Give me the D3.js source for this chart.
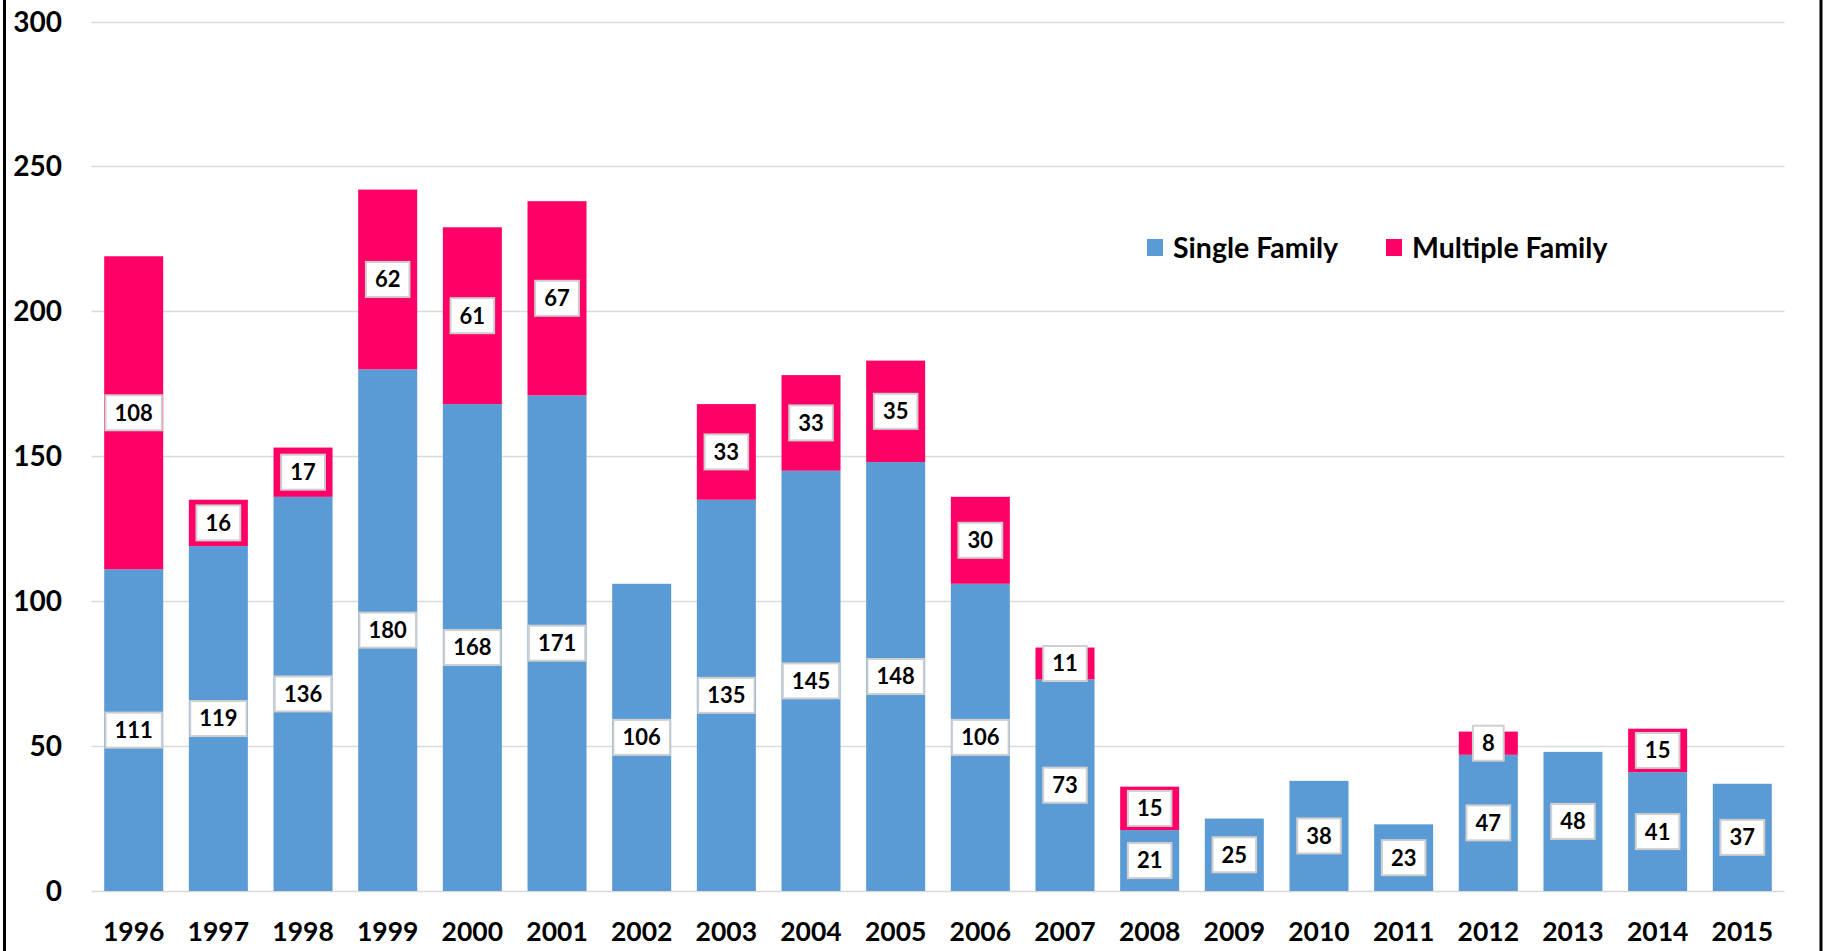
<!DOCTYPE html>
<html>
<head>
<meta charset="utf-8">
<script src="https://cdn.jsdelivr.net/npm/d3@7"></script>
<style>
  html, body { margin: 0; padding: 0; background: #fff; }
  svg { display: block; font-family: Lato, 'Open Sans', sans-serif; }
</style>
</head>
<body>
<div id="chart"></div>
<script>
const years = ['1996', '1997', '1998', '1999', '2000', '2001', '2002', '2003', '2004', '2005',
  '2006', '2007', '2008', '2009', '2010', '2011', '2012', '2013', '2014', '2015']
const singleFamily = [111, 119, 136, 180, 168, 171, 106, 135, 145, 148, 106, 73, 21, 25, 38, 23, 47, 48, 41, 37]
const multipleFamily = [108, 16, 17, 62, 61, 67, 0, 33, 33, 35, 30, 11, 15, 0, 0, 0, 8, 0, 15, 0]
const yTicks = [0, 50, 100, 150, 200, 250, 300]
const seriesNames = ['Single Family', 'Multiple Family']
const colors = ['#5B9BD5', '#FF0066']

const width = 1825
const height = 951

const rows = years.map((y, i) => ({ year: y, single: singleFamily[i], multiple: multipleFamily[i] }))
const stack = d3.stack().keys(['single', 'multiple'])(rows)

const x = d3.scaleBand().domain(years).range([91.5, 1784.5]).paddingInner(0.303).paddingOuter(0.15)
const y = d3.scaleLinear().domain([0, 300]).range([891, 21.5])

const svg = d3.select('#chart').append('svg')
  .attr('width', width)
  .attr('height', height)

// frame
svg.append('line').attr('x1', 4.5).attr('x2', 4.5).attr('y1', 0).attr('y2', height)
  .attr('stroke', '#000').attr('stroke-width', 3)
svg.append('line').attr('x1', 1821).attr('x2', 1821).attr('y1', 0).attr('y2', height)
  .attr('stroke', '#000').attr('stroke-width', 3)

// gridlines
svg.append('g')
  .selectAll('line')
  .data(yTicks)
  .join('line')
  .attr('x1', 91.5)
  .attr('x2', 1784.5)
  .attr('y1', d => Math.round(y(d)) + 0.5)
  .attr('y2', d => Math.round(y(d)) + 0.5)
  .attr('stroke', '#d9d9d9')
  .attr('stroke-width', 1.5)

// y tick labels
svg.append('g')
  .selectAll('text')
  .data(yTicks)
  .join('text')
  .attr('x', 62)
  .attr('y', d => y(d))
  .attr('dy', '0.36em')
  .attr('text-anchor', 'end')
  .attr('font-size', 28)
  .attr('font-weight', 700)
  .text(d => d)

// bars
const layers = svg.append('g')
  .selectAll('g')
  .data(stack)
  .join('g')
  .attr('fill', (d, i) => colors[i])

layers.selectAll('rect')
  .data(d => d)
  .join('rect')
  .attr('x', d => x(d.data.year))
  .attr('width', x.bandwidth())
  .attr('y', d => y(d[1]))
  .attr('height', d => y(d[0]) - y(d[1]))

// x labels
svg.append('g')
  .selectAll('text')
  .data(years)
  .join('text')
  .attr('x', d => x(d) + x.bandwidth() / 2)
  .attr('y', 941)
  .attr('text-anchor', 'middle')
  .attr('font-size', 26.5)
  .attr('font-weight', 700)
  .text(d => d)

// value labels in boxes
const labelData = []
stack.forEach(layer => {
  layer.forEach(d => {
    const v = d[1] - d[0]
    if (v > 0) labelData.push({ year: d.data.year, v, mid: (d[0] + d[1]) / 2 })
  })
})

const labels = svg.append('g')
  .selectAll('g')
  .data(labelData)
  .join('g')
  .attr('transform', d => `translate(${x(d.year) + x.bandwidth() / 2},${y(d.mid)})`)

labels.append('text')
  .attr('text-anchor', 'middle')
  .attr('dy', '0.36em')
  .attr('font-size', 22)
  .attr('font-weight', 700)
  .text(d => d.v)

labels.each(function () {
  const g = d3.select(this)
  const bb = g.select('text').node().getBBox()
  const w = bb.width + 18
  const h = 35
  g.insert('rect', 'text')
    .attr('x', -w / 2)
    .attr('y', -h / 2)
    .attr('width', w)
    .attr('height', h)
    .attr('fill', '#fff')
    .attr('stroke', '#cfcfcf')
    .attr('stroke-width', 2)
})

// legend
const legend = svg.append('g')
const legX = [1147, 1386]
seriesNames.forEach((name, i) => {
  legend.append('rect')
    .attr('x', legX[i])
    .attr('y', 239)
    .attr('width', 16)
    .attr('height', 17)
    .attr('fill', colors[i])
  legend.append('text')
    .attr('x', legX[i] + 26)
    .attr('y', 247.5)
    .attr('dy', '0.36em')
    .attr('font-size', 28.5)
    .attr('font-weight', 700)
    .text(name)
})
</script>
</body>
</html>
